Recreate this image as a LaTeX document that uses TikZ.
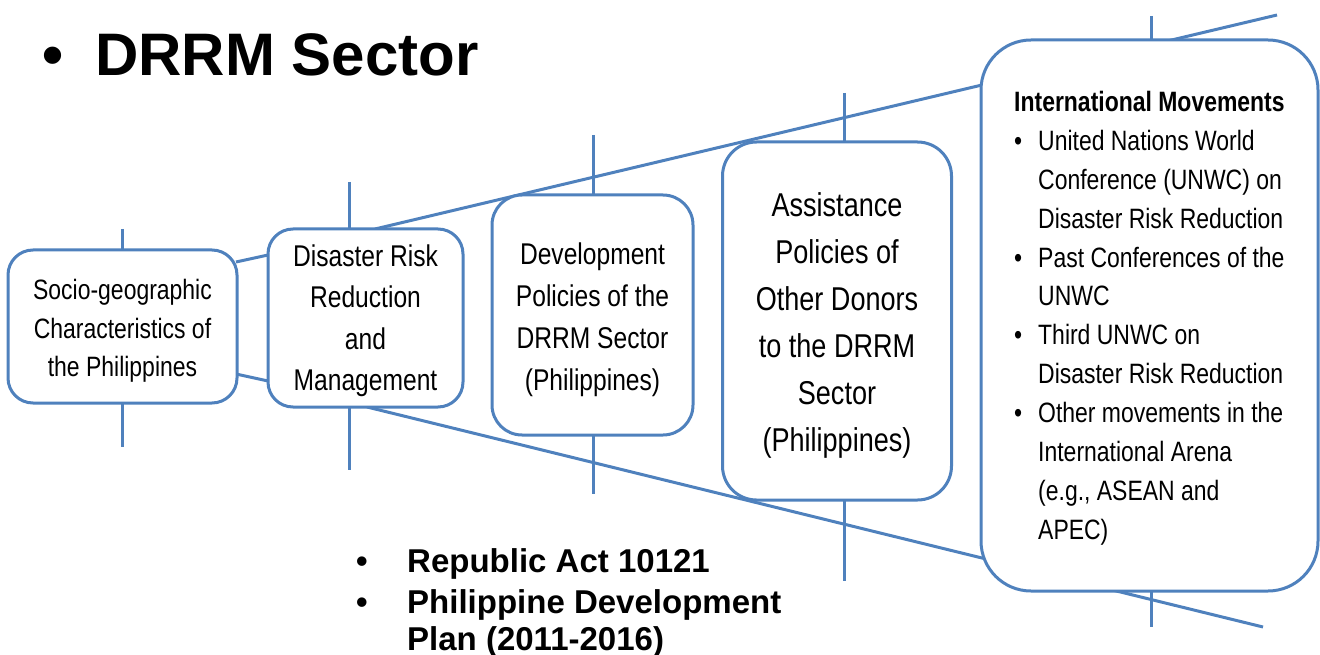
\documentclass[tikz,border=0pt]{standalone}
\usepackage{fontspec}
\setmainfont{Liberation Sans}
\newfontfamily\narrow[FakeStretch=0.82]{Liberation Sans}
\definecolor{lineblue}{HTML}{4F81BD}
\begin{document}
\begin{tikzpicture}[x=1pt,y=-1pt,
  conn/.style={draw=lineblue,line width=3pt},
  box/.style={draw=lineblue,line width=3pt,fill=white,rounded corners=#1,inner sep=0pt},
  boxtext/.style={inner sep=0pt,anchor=base},
  plain/.style={inner sep=0pt,anchor=base west},
]
\useasboundingbox (0,0) rectangle (1320,655);
% named coordinates for the funnel and the ticks
\coordinate (ft1) at (375,229);   \coordinate (ft2) at (1277,15);
\coordinate (fb1) at (367,407);   \coordinate (fb2) at (1263,627);
\coordinate (v1a) at (122.5,229); \coordinate (v1b) at (122.5,447);
\coordinate (v2a) at (349,182);   \coordinate (v2b) at (349,470);
\coordinate (v3a) at (593,135);   \coordinate (v3b) at (593,494);
\coordinate (v4a) at (844,93);    \coordinate (v4b) at (844,581);
\coordinate (v5a) at (1151,16);   \coordinate (v5b) at (1151,627);
\coordinate (s1a) at (236,262);   \coordinate (s1b) at (268,255);
\coordinate (s2a) at (236,374);   \coordinate (s2b) at (268,381);
% lines behind the boxes
\draw[conn] (ft1) -- (ft2);
\draw[conn] (fb1) -- (fb2);
\draw[conn] (v1a) -- (v1b);
\draw[conn] (v2a) -- (v2b);
\draw[conn] (v3a) -- (v3b);
\draw[conn] (v4a) -- (v4b);
\draw[conn] (v5a) -- (v5b);
\draw[conn] (s1a) -- (s1b);
\draw[conn] (s2a) -- (s2b);
% boxes
\node[box=25pt,minimum width=229pt,minimum height=153pt] (soc) at (122.5,326.5) {};
\node[box=25pt,minimum width=195pt,minimum height=178pt] (drrm) at (365.5,318) {};
\node[box=30pt,minimum width=201pt,minimum height=240pt] (dev) at (592.5,315) {};
\node[box=34pt,minimum width=229pt,minimum height=358pt] (assist) at (837,321) {};
\node[box=50pt,minimum width=337pt,minimum height=551pt] (intl) at (1149.5,315.5) {};
% box texts, placed by the baseline of their first line
\node[boxtext,font=\narrow\fontsize{28}{38.5}\selectfont] (socT) at (122.5,299.5)
  {\begin{tabular}[t]{@{}c@{}}Socio-geographic\\Characteristics of\\the Philippines\end{tabular}};
\node[boxtext,font=\narrow\fontsize{30}{41.6}\selectfont] (drrmT) at (365.5,266)
  {\begin{tabular}[t]{@{}c@{}}Disaster Risk\\Reduction\\and\\Management\end{tabular}};
\node[boxtext,font=\narrow\fontsize{30}{42.2}\selectfont] (devT) at (592.5,264)
  {\begin{tabular}[t]{@{}c@{}}Development\\Policies of the\\DRRM Sector\\(Philippines)\end{tabular}};
\node[boxtext,font=\narrow\fontsize{33}{47}\selectfont] (assistT) at (837,217)
  {\begin{tabular}[t]{@{}c@{}}Assistance\\Policies of\\Other Donors\\to the DRRM\\Sector\\(Philippines)\end{tabular}};
\node[boxtext,anchor=base west,font=\narrow\fontsize{28}{38.9}\selectfont] (intlT) at (1014,111.5)
  {\begin{tabular}[t]{@{}l@{}}\textbf{International Movements}\\
   \makebox[24pt][l]{•}United Nations World\\
   \hspace*{24pt}Conference (UNWC) on\\
   \hspace*{24pt}Disaster Risk Reduction\\
   \makebox[24pt][l]{•}Past Conferences of the\\
   \hspace*{24pt}UNWC\\
   \makebox[24pt][l]{•}Third UNWC on\\
   \hspace*{24pt}Disaster Risk Reduction\\
   \makebox[24pt][l]{•}Other movements in the\\
   \hspace*{24pt}International Arena\\
   \hspace*{24pt}(e.g., ASEAN and\\
   \hspace*{24pt}APEC)\end{tabular}};
% title
\node[plain,font=\fontsize{60}{60}\bfseries\selectfont] (title) at (42,76) {\makebox[53pt][l]{•}DRRM Sector};
% bottom list
\node[plain,font=\fontsize{33}{40}\bfseries\selectfont] (ra) at (356,572) {\makebox[51pt][l]{•}Republic Act 10121};
\node[plain,font=\fontsize{33}{40}\bfseries\selectfont] (pdp) at (356,613) {\makebox[51pt][l]{•}Philippine Development};
\node[plain,font=\fontsize{33}{40}\bfseries\selectfont] (plan) at (407,650) {Plan (2011-2016)};
\end{tikzpicture}
\end{document}
